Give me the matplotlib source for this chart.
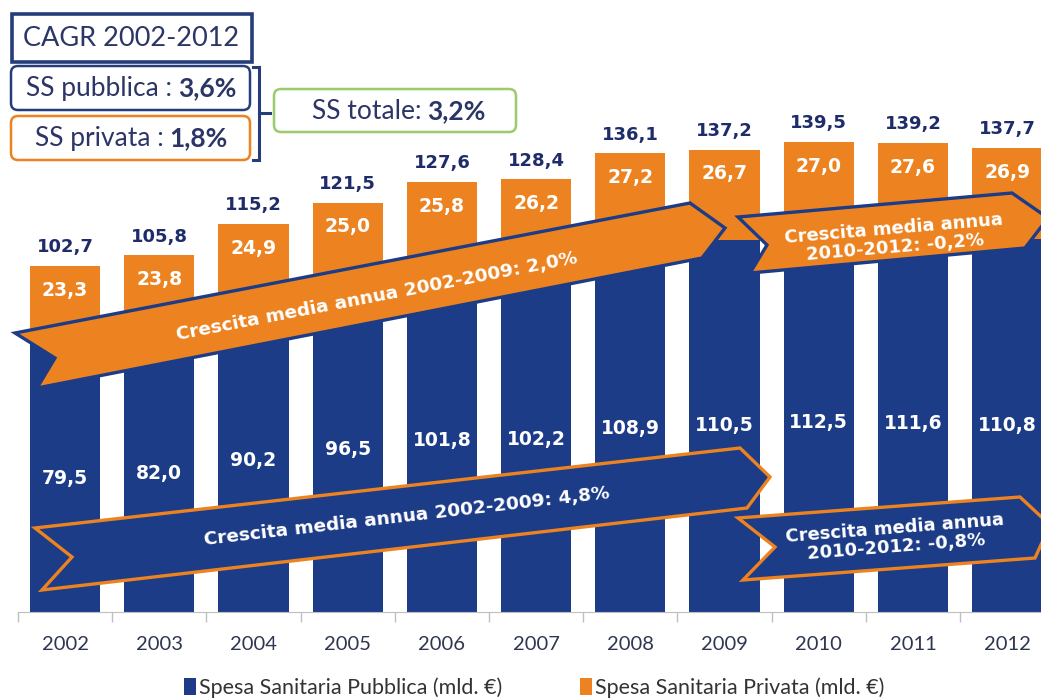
import matplotlib
matplotlib.use("Agg")
import matplotlib.pyplot as plt
import numpy as np
from matplotlib.patches import Polygon, Rectangle, FancyBboxPatch, Patch

# data (mld. euro)
years = ["2002", "2003", "2004", "2005", "2006", "2007", "2008", "2009", "2010", "2011", "2012"]
pubblica = [79.5, 82.0, 90.2, 96.5, 101.8, 102.2, 108.9, 110.5, 112.5, 111.6, 110.8]
privata = [23.3, 23.8, 24.9, 25.0, 25.8, 26.2, 27.2, 26.7, 27.0, 27.6, 26.9]
totale = [102.7, 105.8, 115.2, 121.5, 127.6, 128.4, 136.1, 137.2, 139.5, 139.2, 137.7]

NAVY = "#1C3C87"
ORANGE = "#EC8320"
TXT_NAVY = "#1F2C6A"
GREEN = "#9CCB6B"


def fmt(v):
    return f"{v:.1f}".replace(".", ",")


fig = plt.figure(figsize=(10.41, 6.98), dpi=100)
W, H = 1041, 698

# main bar axes
ax = fig.add_axes([18 / W, 86 / H, (W - 18) / W, 612 / H])
x = np.arange(len(years))
bw = 0.745
ax.bar(x, pubblica, width=bw, color=NAVY, zorder=2)
ax.bar(x, privata, width=bw, bottom=pubblica, color=ORANGE, zorder=2)

for i in range(len(years)):
    ax.text(x[i], pubblica[i] / 2, fmt(pubblica[i]), ha="center", va="center",
            color="white", fontsize=13.5, fontweight="bold", family="DejaVu Sans", zorder=3)
    ax.text(x[i], totale[i] - 7.2, fmt(privata[i]), ha="center", va="center",
            color="white", fontsize=13.5, fontweight="bold", family="DejaVu Sans", zorder=3)
    ax.annotate(fmt(totale[i]), xy=(x[i], totale[i]), xytext=(0, 7),
                textcoords="offset points", ha="center", va="bottom",
                color=TXT_NAVY, fontsize=13, fontweight="bold", family="DejaVu Sans")

ax.set_yticks([])
ax.set_xticks(x)
ax.set_xticklabels(years, fontsize=14.5, color="#2E3650", family="Lato")
ax.set_xticks(np.arange(-0.5, 10.4, 1), minor=True)
ax.tick_params(axis="x", which="major", length=0, pad=17)
ax.tick_params(axis="x", which="minor", length=7, color="#BFBFBF", width=1)
ax.set_xlim(-0.5, 10.36)
ax.set_ylim(0, 181.6)
for s in ["top", "left", "right"]:
    ax.spines[s].set_visible(False)
ax.spines["bottom"].set_color("#BFBFBF")
ax.patch.set_alpha(0)

# overlay in pixel coordinates for annotation shapes
ov = fig.add_axes([0, 0, 1, 1], zorder=5)
ov.set_xlim(0, W)
ov.set_ylim(H, 0)
ov.axis("off")

arrows = [
    ([(15, 333), (690, 203), (725, 228), (702, 258), (37, 388), (55, 358)], ORANGE, NAVY),
    ([(738, 217), (1012, 193), (1048, 218), (1025, 248), (750, 273), (767, 245)], ORANGE, NAVY),
    ([(35, 528), (740, 448), (770, 477), (747, 508), (42, 590), (72, 557)], NAVY, ORANGE),
    ([(738, 518), (1020, 497), (1050, 525), (1035, 558), (743, 580), (775, 547)], NAVY, ORANGE),
]
for pts, fc, ec in arrows:
    ov.add_patch(Polygon(pts, closed=True, facecolor=fc, edgecolor=ec, linewidth=2.4,
                         joinstyle="miter"))

arrow_txt = dict(color="white", fontweight="bold", family="DejaVu Sans",
                 ha="center", va="center", rotation_mode="anchor")
ov.text(377, 297, "Crescita media annua 2002-2009: 2,0%", fontsize=13.3, rotation=10.9, **arrow_txt)
ov.text(407, 517, "Crescita media annua 2002-2009: 4,8%", fontsize=13.3, rotation=6.6, **arrow_txt)
ov.text(894, 238, "Crescita media annua\n2010-2012: -0,2%", fontsize=13, rotation=4.8,
        linespacing=1.05, **arrow_txt)
ov.text(896, 538, "Crescita media annua\n2010-2012: -0,8%", fontsize=13, rotation=4.5,
        linespacing=1.05, **arrow_txt)

# CAGR boxes
ov.add_patch(Rectangle((12, 14), 240, 48, facecolor="white", edgecolor="#263C7C", linewidth=2.6))
ov.text(131, 39, "CAGR 2002-2012", ha="center", va="center", fontsize=19.5,
        color="#2B3566", family="Lato")
ov.add_patch(FancyBboxPatch((11, 66), 239, 44, boxstyle="round,pad=0,rounding_size=7",
                            facecolor="white", edgecolor="#263C7C", linewidth=1.8))
ov.add_patch(FancyBboxPatch((11, 116), 239, 44, boxstyle="round,pad=0,rounding_size=7",
                            facecolor="white", edgecolor=ORANGE, linewidth=1.8))
ov.add_patch(FancyBboxPatch((274, 89), 242, 43, boxstyle="round,pad=0,rounding_size=7",
                            facecolor="white", edgecolor=GREEN, linewidth=1.8))
ov.plot([253, 259, 259, 253], [67, 67, 160, 160], color="#263C7C", lw=2.2,
        solid_joinstyle="miter")
ov.plot([259, 270], [113, 113], color="#263C7C", lw=2.2)

renderer = fig.canvas.get_renderer()


def two_part(xc, y, a, b, size):
    t1 = ov.text(0, y, a, ha="left", va="baseline", fontsize=size, color="#2B3566", family="Lato")
    t2 = ov.text(0, y, b, ha="left", va="baseline", fontsize=size, color="#2B3566",
                 family="Lato", fontweight="bold")
    w1 = t1.get_window_extent(renderer).width
    w2 = t2.get_window_extent(renderer).width
    gap = size * 0.3
    x0 = xc - (w1 + gap + w2) / 2
    t1.set_x(x0)
    t2.set_x(x0 + w1 + gap)


two_part(131, 96, "SS pubblica :", "3,6%", 19)
two_part(131, 146, "SS privata :", "1,8%", 19)
two_part(399, 119, "SS totale:", "3,2%", 19)

# legend
handles = [Patch(facecolor=NAVY, label="Spesa Sanitaria Pubblica (mld. €)"),
           Patch(facecolor=ORANGE, label="Spesa Sanitaria Privata (mld. €)")]
fig.legend(handles=handles, loc="center", bbox_to_anchor=(0.513, 0.015), ncol=2,
           frameon=False, handlelength=0.55, handleheight=0.8, handletextpad=0.15,
           columnspacing=3.6, prop={"family": "Lato", "size": 15.5}, labelcolor="#333333")

fig.savefig("out.png", dpi=100)
